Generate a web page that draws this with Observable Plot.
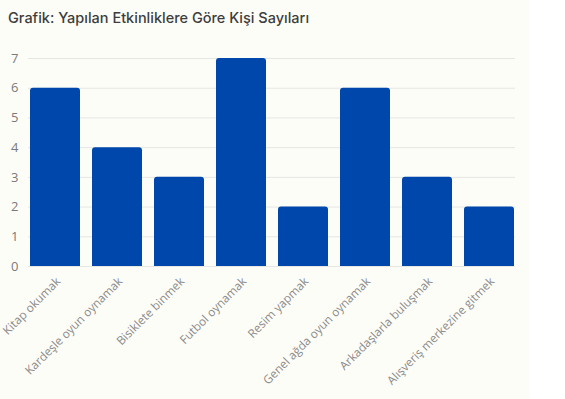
<!DOCTYPE html>
<html>
<head>
<meta charset="utf-8">
<script src="https://cdn.jsdelivr.net/npm/d3@7"></script>
<script src="https://cdn.jsdelivr.net/npm/@observablehq/plot@0.6"></script>
<style>
  html, body { margin: 0; padding: 0; background: #ffffff; }
  #wrap { width: 530px; background: #fdfdf8; }
  #title { height: 36px; line-height: 36px; padding-left: 8px; font-family: Inter, "Noto Sans", sans-serif; font-weight: 500; font-size: 14.5px; color: #3d3d3d; }
</style>
</head>
<body>
<div id="wrap">
  <div id="title">Grafik: Yapılan Etkinliklere Göre Kişi Sayıları</div>
  <div id="chart"></div>
</div>
<script>
const categories = ["Kitap okumak", "Kardeşle oyun oynamak", "Bisiklete binmek", "Futbol oynamak", "Resim yapmak", "Genel ağda oyun oynamak", "Arkadaşlarla buluşmak", "Alışveriş merkezine gitmek"];
const values = [6, 4, 3, 7, 2, 6, 3, 2];
const yTicks = [0, 1, 2, 3, 4, 5, 6, 7];

const data = categories.map((c, i) => ({category: c, value: values[i]}));

const chart = Plot.plot({
  width: 530,
  height: 363,
  marginTop: 22,
  marginBottom: 133,
  marginLeft: 28,
  marginRight: 15,
  style: {background: "transparent", fontFamily: "'Open Sans', sans-serif", overflow: "visible"},
  x: {domain: categories, padding: 0.2, paddingOuter: 0, axis: null},
  y: {domain: [0, 7], axis: null},
  marks: [
    Plot.ruleY(yTicks, {stroke: "#e6e6e2", strokeWidth: 1}),
    Plot.axisY(yTicks, {tickSize: 0, tickPadding: 10, fontSize: 13, fill: "#7a7a7a", label: null}),
    Plot.barY(data, {x: "category", y: "value", fill: "#0047ab", rx: 3}),
    Plot.barY(data, {x: "category", y1: 0, y2: d => Math.min(d.value, 0.3), fill: "#0047ab"}),
    Plot.axisX({tickRotate: -45, tickSize: 0, tickPadding: 13, dx: 3, fontSize: 11.8, fill: "#8a8a8a", label: null})
  ]
});
document.getElementById("chart").appendChild(chart);
</script>
</body>
</html>
